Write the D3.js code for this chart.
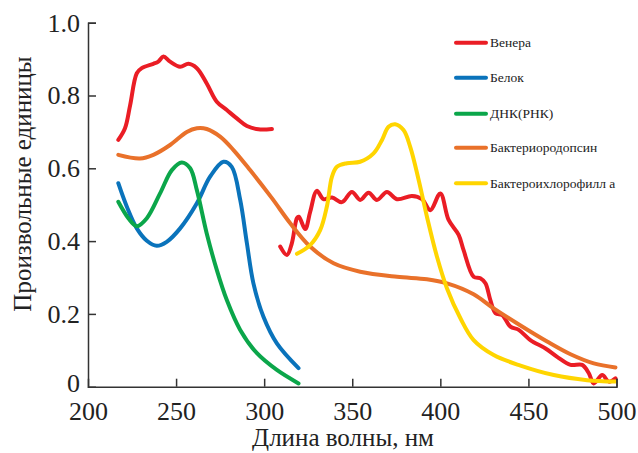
<!DOCTYPE html>
<html><head><meta charset="utf-8">
<script src="https://cdn.jsdelivr.net/npm/d3@7"></script>
<style>body{margin:0;background:#fff}svg{display:block}svg text{font-family:"Liberation Serif","Times New Roman",Times,serif}</style>
</head><body>
<svg id="c" width="638" height="453"></svg>
<script>
const seriesNames = ["Венера","Белок","ДНК(РНК)","Бактериородопсин","Бактероихлорофилл а"];
const seriesColors = ["#ea1d25","#0a73bb","#0ba64a","#e9712a","#ffd500"];
const xTicks = [200,250,300,350,400,450,500];
const yTicks = [0,0.2,0.4,0.6,0.8,1.0];
const yTickLabels = ["0","0.2","0.4","0.6","0.8","1.0"];

const venusUV = [[217.2,0.678],[221.0,0.710],[223.9,0.773],[227.7,0.861],[230.5,0.875],[237.1,0.887],[239.9,0.893],[242.8,0.907],[246.6,0.893],[252.3,0.879],[257.0,0.887],[261.8,0.875],[267.4,0.833],[273.1,0.783],[278.8,0.760],[284.5,0.737],[290.2,0.716],[296.8,0.707],[304.4,0.708]];
const venusVis = [[309.1,0.385],[312.9,0.362],[315.7,0.394],[318.6,0.463],[319.7,0.467],[323.3,0.433],[326.1,0.480],[329.9,0.538],[333.7,0.515],[338.5,0.520],[344.1,0.507],[349.8,0.535],[354.5,0.513],[359.3,0.533],[364.0,0.513],[369.7,0.535],[375.4,0.515],[383.9,0.524],[389.6,0.515],[394.3,0.485],[400.0,0.531],[404.7,0.458],[410.4,0.417],[413.2,0.375],[418.9,0.302],[422.7,0.298],[425.6,0.284],[428.4,0.238],[431.3,0.202],[435.1,0.197],[439.8,0.165],[444.5,0.156],[451.1,0.128],[459.7,0.105],[466.3,0.082],[473.9,0.060],[480.5,0.060],[484.3,0.037],[487.1,0.009],[491.9,0.032],[495.6,0.014],[499.4,0.023]];
const protein = [[217.2,0.559],[222.0,0.495],[227.7,0.435],[233.4,0.401],[239.0,0.387],[244.7,0.398],[252.3,0.435],[261.8,0.504],[269.3,0.577],[276.9,0.618],[281.6,0.604],[286.4,0.513],[290.2,0.394],[293.9,0.284],[299.6,0.192],[307.2,0.119],[319.5,0.051]];
const dna = [[217.2,0.508],[222.9,0.463],[227.7,0.441],[233.4,0.463],[240.9,0.531],[247.6,0.595],[253.2,0.616],[258.0,0.600],[261.8,0.540],[267.4,0.421],[273.1,0.321],[278.8,0.238],[286.4,0.156],[295.9,0.092],[307.2,0.046],[319.5,0.009]];
const bacteriorhodopsin = [[217.2,0.637],[229.5,0.627],[237.1,0.637],[246.6,0.664],[256.1,0.700],[261.8,0.710],[267.4,0.708],[275.0,0.687],[282.6,0.650],[292.0,0.595],[304.4,0.518],[314.8,0.449],[326.1,0.385],[339.4,0.339],[354.5,0.316],[375.4,0.302],[392.4,0.295],[403.8,0.284],[418.9,0.254],[430.3,0.215],[445.5,0.168],[460.6,0.124],[473.9,0.089],[487.1,0.064],[499.4,0.053]];
const bacteriochlorophyll = [[318.6,0.365],[326.1,0.389],[331.8,0.430],[335.6,0.495],[338.5,0.577],[341.3,0.604],[347.0,0.614],[354.5,0.618],[362.1,0.641],[366.9,0.678],[370.6,0.714],[374.4,0.721],[379.1,0.705],[382.9,0.659],[387.7,0.568],[392.4,0.467],[398.1,0.357],[403.8,0.270],[411.4,0.188],[418.9,0.128],[430.3,0.087],[445.5,0.058],[464.4,0.032],[483.3,0.018],[499.4,0.014]];

const lines = [
  {s:0, d:venusUV},{s:0, d:venusVis},
  {s:3, d:bacteriorhodopsin},
  {s:1, d:protein},{s:2, d:dna},
  {s:4, d:bacteriochlorophyll}
];

const svg = d3.select("#c");
const x = d3.scaleLinear().domain([200,500]).range([88,616.5]);
const y = d3.scaleLinear().domain([0,1]).range([386.7,22.7]);

const line = d3.line().x(d=>x(d[0])).y(d=>y(d[1])).curve(d3.curveCatmullRom.alpha(0.5));
svg.append("g").selectAll("path").data(lines).join("path")
  .attr("d", d=>line(d.d)).attr("fill","none")
  .attr("stroke", d=>seriesColors[d.s]).attr("stroke-width",4)
  .attr("stroke-linecap","round").attr("stroke-linejoin","round");

// axes
const xAxis = svg.append("g").attr("transform",`translate(0,${y(0)})`)
  .call(d3.axisBottom(x).tickValues(xTicks).tickSize(-8).tickPadding(15).tickFormat(d3.format("d")));
const yAxis = svg.append("g").attr("transform",`translate(${x(200)},0)`)
  .call(d3.axisLeft(y).tickValues(yTicks).tickSize(-8).tickPadding(8).tickFormat((d,i)=>yTickLabels[i]));
[xAxis,yAxis].forEach(g=>{
  g.attr("font-family",null).attr("font-size",null);
  g.select(".domain").attr("stroke","#333").attr("stroke-width",1.5);
  g.selectAll(".tick line").attr("stroke","#333").attr("stroke-width",1.5);
  g.selectAll("text").attr("fill","#222").style("font-size","26px");
});
xAxis.selectAll(".tick").filter(d=>d===200).select("line").remove();
const zeroTick = yAxis.selectAll(".tick").filter(d=>d===0);
zeroTick.select("line").remove();
zeroTick.select("text").attr("y",-4);

svg.append("text").attr("x",343).attr("y",446).attr("text-anchor","middle")
  .style("font-size","25px").attr("fill","#222").text("Длина волны, нм");
svg.append("text").attr("transform","translate(31,184) rotate(-90)").attr("text-anchor","middle")
  .style("font-size","25px").attr("fill","#222").text("Произвольные единицы");

// legend
const ly = [42.7,77.7,113.7,147.7,183.3];
const lg = svg.append("g").selectAll("g").data(seriesNames).join("g")
  .attr("transform",(d,i)=>`translate(456,${ly[i]})`);
lg.append("line").attr("x1",0).attr("x2",30).attr("stroke",(d,i)=>seriesColors[i])
  .attr("stroke-width",4).attr("stroke-linecap","round");
lg.append("text").attr("x",34).attr("dy","0.32em").text(d=>d)
  .style("font-size","13.5px").attr("fill","#222");
</script>
</body></html>
